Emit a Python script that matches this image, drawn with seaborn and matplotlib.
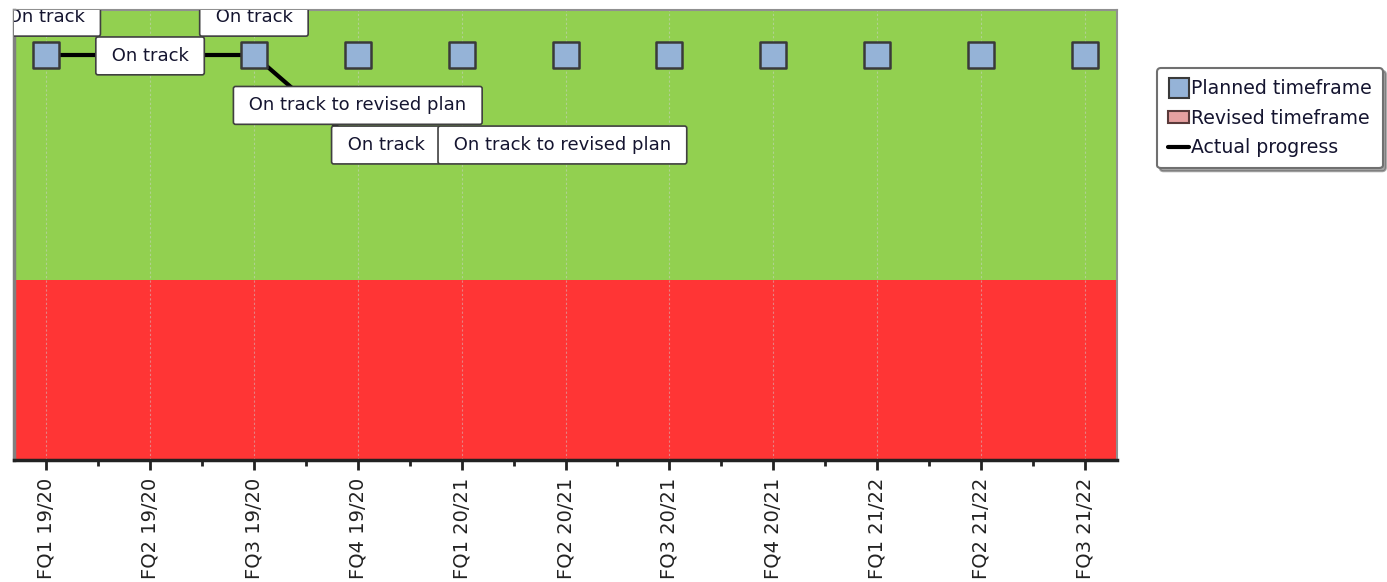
import matplotlib
matplotlib.use("Agg")
import matplotlib.pyplot as plt
from matplotlib.lines import Line2D
from matplotlib.patches import Patch
import seaborn as sns
import pandas as pd

quarters = ["FQ1 19/20", "FQ2 19/20", "FQ3 19/20", "FQ4 19/20", "FQ1 20/21", "FQ2 20/21",
            "FQ3 20/21", "FQ4 20/21", "FQ1 21/22", "FQ2 21/22", "FQ3 21/22"]
planned_level = [4.5] * 11
actual_idx = [0, 1, 2, 3, 4, 5]
actual_level = [4.5, 4.5, 4.5, 3.5, 3.5, 3.5]
label_texts = ["On track", "On track", "On track", "On track to revised plan", "On track",
               "On track to revised plan"]
label_x = [0.0, 1.0, 2.0, 3.0, 3.27, 4.97]
label_y = [4.92, 4.49, 4.92, 3.94, 3.5, 3.5]
red_band = (0, 2)
green_band = (2, 5)

sns.set_style("white")
plt.rcParams["font.family"] = ["DejaVu Sans"]

fig = plt.figure(figsize=(13.87, 5.82), dpi=100)
ax = fig.add_axes([14 / 1387, 1 - 460 / 582, (1117 - 14) / 1387, 450 / 582])

ax.axhspan(*red_band, color="#ff3535", zorder=0, lw=0)
ax.axhspan(*green_band, color="#92d050", zorder=0, lw=0)

planned_df = pd.DataFrame({"q": range(len(quarters)), "v": planned_level})
actual_df = pd.DataFrame({"q": actual_idx, "v": actual_level})

sns.lineplot(data=actual_df, x="q", y="v", color="black", lw=3, ax=ax, zorder=3,
             legend=False)
sns.scatterplot(data=planned_df, x="q", y="v", marker="s", s=330, color="#95b3d7",
                edgecolor="#3a3a3a", linewidth=1.8, ax=ax, zorder=4, legend=False)

for t, x, y in zip(label_texts, label_x, label_y):
    ax.text(x, y, " " + t + " ", ha="center", va="center", fontsize=13, color="#151530",
            zorder=6, clip_on=True,
            bbox=dict(boxstyle="round,pad=0.55,rounding_size=0.12", fc="white",
                      ec="#404040", lw=1.2))

ax.set_xlim(-0.31, 10.31)
ax.set_ylim(0, 5)
ax.set_xticks(range(len(quarters)))
ax.set_xticklabels(quarters, rotation=90, fontsize=14, color="#222222")
ax.set_xticks([i + 0.5 for i in range(len(quarters) - 1)], minor=True)
ax.set_yticks([])
ax.set_xlabel("")
ax.set_ylabel("")
ax.tick_params(axis="x", which="major", direction="out", length=7, width=2, color="#222222",
               bottom=True, pad=6)
ax.tick_params(axis="x", which="minor", direction="out", length=4, width=2, color="#222222",
               bottom=True)
for x in range(len(quarters)):
    ax.axvline(x, color="#d0d0d0", lw=0.8, ls=(0, (2, 2)), alpha=0.5, zorder=1)

for side in ["top", "right"]:
    ax.spines[side].set_color("#909090")
    ax.spines[side].set_linewidth(1.5)
ax.spines["left"].set_color("#808080")
ax.spines["left"].set_linewidth(2.5)
ax.spines["bottom"].set_color("#222222")
ax.spines["bottom"].set_linewidth(2.5)

handles = [
    Line2D([0], [0], marker="s", ls="none", markersize=15, markerfacecolor="#95b3d7",
           markeredgecolor="#3a3a3a", markeredgewidth=1.5),
    Patch(facecolor="#e6a0a0", edgecolor="#5a3a3a", lw=1.5),
    Line2D([0], [0], color="black", lw=3),
]
leg = fig.legend(handles, ["Planned timeframe", "Revised timeframe", "Actual progress"],
                 loc="upper left", bbox_to_anchor=(1157 / 1387, 1 - 68 / 582),
                 fontsize=13.6, frameon=True, fancybox=True, shadow=True,
                 handlelength=1.1, handleheight=0.6, handletextpad=0.1, labelspacing=0.55,
                 borderpad=0.6, borderaxespad=0)
leg.get_frame().set_edgecolor("#707070")
leg.get_frame().set_linewidth(1.5)
for t in leg.get_texts():
    t.set_color("#151530")

fig.savefig("out.png", dpi=100)
